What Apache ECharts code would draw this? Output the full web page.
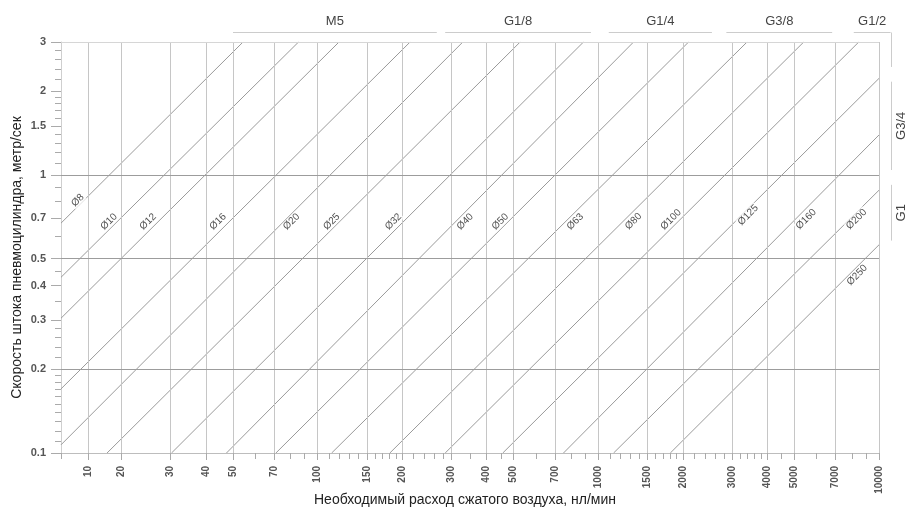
<!DOCTYPE html>
<html>
<head>
<meta charset="utf-8">
<script src="https://cdn.jsdelivr.net/npm/echarts@6/dist/echarts.min.js"></script>
<style>
  html, body { margin: 0; padding: 0; background: #fff; }
  #chart { width: 905px; height: 508px; }
</style>
</head>
<body>
<div id="chart"></div>
<script>
// Cylinder bores, mm
const bores = [8, 10, 12, 16, 20, 25, 32, 40, 50, 63, 80, 100, 125, 160, 200, 250];
// Where each bore line enters the plot (flow nl/min, speed m/s)
const startFlow  = [12.2, 12.2, 12.2, 12.2, 12.2, 17.8, 30.2, 47.4, 71.1, 112.3, 181, 285, 457, 752, 1134, 1806];
const startSpeed = [0.67, 0.428, 0.305, 0.17, 0.107, 0.1, 0.1, 0.1, 0.1, 0.1, 0.1, 0.1, 0.1, 0.1, 0.1, 0.1];
// Where each bore line leaves the plot
const endFlow  = [54.3, 85.6, 119.3, 213.7, 329.4, 527, 886, 1336, 2098, 3389, 5394, 8472, 10000, 10000, 10000, 10000];
const endSpeed = [3, 3, 3, 3, 3, 3, 3, 3, 3, 3, 3, 3, 2.22, 1.39, 0.88, 0.56];
// Bore caption anchors
const captionFlow  = [14.0, 18.1, 24.9, 44.2, 80.8, 112.3, 186.3, 335.6, 447.4, 827.9, 1336, 1816, 3418, 5502, 8315, 8363];
const captionSpeed = [0.81, 0.678, 0.678, 0.678, 0.678, 0.678, 0.678, 0.678, 0.678, 0.678, 0.68, 0.69, 0.716, 0.692, 0.692, 0.436];

// Flow axis: labelled grid positions and their captions
const flowTicks = [15.2, 20, 30, 40, 50, 70, 100, 150, 200, 300, 400, 500, 700, 1000, 1500, 2000, 3000, 4000, 5000, 7000, 10000];
const flowTickLabels = ['10', '20', '30', '40', '50', '70', '100', '150', '200', '300', '400', '500', '700', '1000', '1500', '2000', '3000', '4000', '5000', '7000', '10000'];
const flowMinorTicks = [12.2, 60, 80, 90, 110, 120, 130, 140, 160, 170, 180, 190, 220, 240, 260, 280, 350, 450, 600, 800, 900,
  1100, 1200, 1300, 1400, 1600, 1700, 1800, 1900, 2200, 2400, 2600, 2800, 3200, 3400, 3600, 3800, 4500, 6000, 8000, 9000];
// Speed axis
const speedTicks = [0.1, 0.2, 0.3, 0.4, 0.5, 0.7, 1, 1.5, 2, 3];
const speedMinorTicks = [0.11, 0.12, 0.13, 0.14, 0.15, 0.16, 0.17, 0.18, 0.19, 0.22, 0.24, 0.26, 0.28, 0.35, 0.45, 0.6, 0.8, 0.9,
  1.1, 1.2, 1.3, 1.4, 1.6, 1.7, 1.8, 1.9, 2.2, 2.4, 2.6, 2.8];
const speedGrid = [0.2, 0.5, 1];

// Port sizes along the top (flow ranges) and on the right side (speed ranges)
const topPorts = ['M5', 'G1/8', 'G1/4', 'G3/8', 'G1/2'];
const topPortFrom = [50, 285, 1090, 2860, 8130];
const topPortTo = [266, 942, 2540, 6810, 11000];
const sidePorts = ['G3/4', 'G1'];
const sidePortFrom = [2.16, 0.92];
const sidePortTo = [1.04, 0.58];
const sideFlow = 11000;
const cornerSpeed = 2.44;

const FONT = '"Liberation Sans", Arial, sans-serif';
const chart = echarts.init(document.getElementById('chart'), null, { renderer: 'canvas' });

const fmtFlow = (v) => {
  let best = 0, d = Infinity;
  flowTicks.forEach((t, i) => {
    const e = Math.abs(Math.log(v) - Math.log(t));
    if (e < d) { d = e; best = i; }
  });
  return flowTickLabels[best];
};

const boreSeries = bores.map((b, i) => ({
  type: 'line',
  name: 'Ø' + b,
  data: [[startFlow[i], startSpeed[i]], [endFlow[i], endSpeed[i]]],
  symbol: 'none',
  silent: true,
  clip: true,
  z: 3,
  lineStyle: { color: '#9a9a9a', width: 1 }
}));

const gridSeries = {
  type: 'line',
  data: [],
  silent: true,
  z: 1,
  markLine: {
    silent: true,
    animation: false,
    symbol: ['none', 'none'],
    label: { show: false },
    data: [
      ...flowTicks.map(v => ({ xAxis: v, lineStyle: { color: '#c6c6c6', width: 1, type: 'solid' } })),
      ...speedGrid.map(v => ({ yAxis: v, lineStyle: { color: '#9c9c9c', width: 1, type: 'solid' } })),
      { yAxis: 3, lineStyle: { color: '#d6d6d6', width: 1, type: 'solid' } }
    ]
  }
};

const captionSeries = {
  type: 'scatter',
  silent: true,
  z: 5,
  symbolSize: 0,
  data: bores.map((b, i) => [captionFlow[i], captionSpeed[i], 'Ø' + b]),
  label: {
    show: true,
    position: 'inside',
    rotate: 45,
    formatter: p => p.value[2],
    fontFamily: FONT,
    fontSize: 10,
    color: '#222',
    backgroundColor: '#fff',
    padding: [0, 1]
  }
};

const labelStyle = { fontFamily: FONT, fontSize: 10, color: '#555', fontWeight: 'bold' };

chart.setOption({
  animation: false,
  backgroundColor: '#fff',
  grid: { left: 61, right: 26, top: 42, bottom: 55, containLabel: false, outerBoundsMode: 'none' },
  xAxis: [
    {
      type: 'log', logBase: 10, min: 12.2, max: 10000,
      name: 'Необходимый расход сжатого воздуха, нл/мин',
      nameLocation: 'middle', nameGap: 40, nameMoveOverlap: false,
      nameTextStyle: { fontFamily: FONT, fontSize: 14, color: '#222', padding: [0, 10, 0, 0] },
      axisLine: { show: true, lineStyle: { color: '#bdbdbd' } },
      axisTick: { show: true, customValues: flowTicks, length: 7, lineStyle: { color: '#aaa' } },
      axisLabel: { show: true, customValues: flowTicks, rotate: 90, margin: 13, formatter: fmtFlow, ...labelStyle },
      splitLine: { show: false },
      minorTick: { show: false }
    },
    {
      type: 'log', logBase: 10, min: 12.2, max: 10000, position: 'bottom',
      axisLine: { show: false },
      axisTick: { show: true, customValues: flowMinorTicks, length: 6, lineStyle: { color: '#aaa' } },
      axisLabel: { show: false },
      splitLine: { show: false }
    }
  ],
  yAxis: [
    {
      type: 'log', logBase: 10, min: 0.1, max: 3,
      name: 'Скорость штока пневмоцилиндра, метр/сек',
      nameLocation: 'middle', nameGap: 37, nameRotate: 90, nameMoveOverlap: false,
      nameTextStyle: { fontFamily: FONT, fontSize: 14, color: '#222', padding: [0, 20, 0, 0] },
      axisLine: { show: true, lineStyle: { color: '#cfcfcf' } },
      axisTick: { show: true, customValues: speedTicks, length: 10, lineStyle: { color: '#aaa' } },
      axisLabel: { show: true, customValues: speedTicks, margin: 15, formatter: v => String(+(+v).toPrecision(3)), ...labelStyle, fontSize: 11 },
      splitLine: { show: false }
    },
    {
      type: 'log', logBase: 10, min: 0.1, max: 3, position: 'left',
      axisLine: { show: false },
      axisTick: { show: true, customValues: speedMinorTicks, length: 6, lineStyle: { color: '#aaa' } },
      axisLabel: { show: false },
      splitLine: { show: false }
    }
  ],
  series: [gridSeries, ...boreSeries, captionSeries]
});

// Port size brackets, positioned from the chart's own scales
function drawPorts() {
  const px = v => chart.convertToPixel({ xAxisIndex: 0 }, v);
  const py = v => chart.convertToPixel({ yAxisIndex: 0 }, v);
  const topY = py(3);
  const lineY = Math.round(topY - 10) + 0.5;
  const sideX = Math.round(px(sideFlow)) + 0.5;
  const g = [];
  const stroke = { stroke: '#cccccc', lineWidth: 1 };
  const txt = { fontFamily: FONT, fontSize: 13, fill: '#444' };
  topPorts.forEach((name, i) => {
    const x1 = px(topPortFrom[i]);
    const x2 = Math.min(px(topPortTo[i]), sideX);
    g.push({ type: 'line', silent: true, shape: { x1, y1: lineY, x2, y2: lineY }, style: stroke });
    g.push({ type: 'text', silent: true, x: (x1 + x2) / 2, y: lineY - 11,
      style: { text: name, align: 'center', verticalAlign: 'middle', ...txt } });
  });
  // the last top bracket turns down the right side
  g.push({ type: 'line', silent: true, shape: { x1: sideX, y1: lineY, x2: sideX, y2: py(cornerSpeed) }, style: stroke });
  sidePorts.forEach((name, i) => {
    const y1 = py(sidePortFrom[i]);
    const y2 = py(sidePortTo[i]);
    g.push({ type: 'line', silent: true, shape: { x1: sideX, y1, x2: sideX, y2 }, style: stroke });
    g.push({ type: 'text', silent: true, x: sideX + 10, y: (y1 + y2) / 2, rotation: Math.PI / 2,
      style: { text: name, align: 'center', verticalAlign: 'middle', ...txt } });
  });
  chart.setOption({ graphic: g });
}
drawPorts();
</script>
</body>
</html>
